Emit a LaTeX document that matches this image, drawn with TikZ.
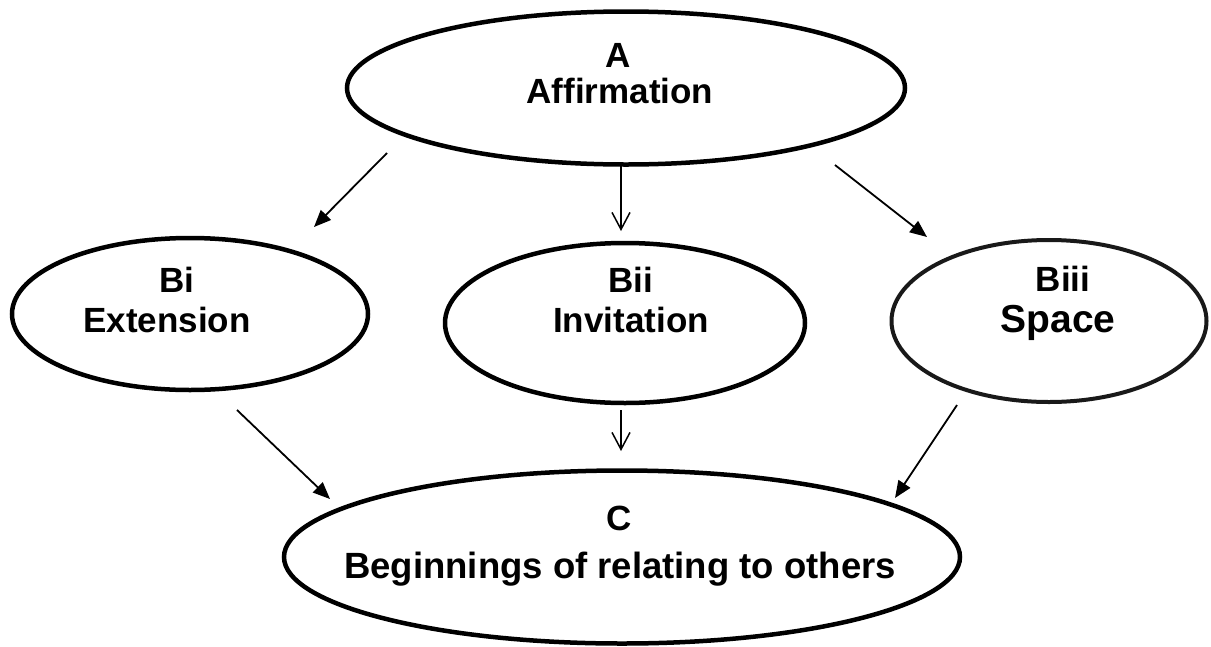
\documentclass[tikz,border=0pt]{standalone}
\usepackage{fontspec}
\setmainfont{Liberation Sans}
\usetikzlibrary{shapes.geometric,arrows.meta}

\begin{document}
\begin{tikzpicture}[x=1pt,y=-1pt,
  oval/.style={ellipse, draw=black, line width=4.5pt, inner sep=0pt, outer sep=0pt},
  lbl/.style={anchor=base, inner sep=0pt, font=\fontsize{35}{36}\selectfont\bfseries},
  bigl/.style={anchor=base, inner sep=0pt, font=\fontsize{39}{40}\selectfont\bfseries},
  widel/.style={anchor=base, inner sep=0pt, font=\fontsize{36.5}{38}\selectfont\bfseries},
  solidarrow/.style={line width=1.8pt, -{Triangle[length=17pt,width=14pt]}},
  openarrow/.style={line width=1.5pt, -{Straight Barb[length=17pt,width=18pt,line width=1.5pt]}}
]
\useasboundingbox (0,0) rectangle (1211,646);

% ovals
\node[oval, minimum width=558, minimum height=153] (A)    at (626,88)  {};
\node[oval, minimum width=356, minimum height=152] (Bi)   at (190,314) {};
\node[oval, minimum width=360, minimum height=160] (Bii)  at (625,323) {};
\node[oval, line width=4pt, draw=black!90, minimum width=315, minimum height=162] (Biii) at (1049,321) {};
\node[oval, minimum width=676, minimum height=173] (C)    at (622,557) {};

% labels
\node[lbl] (Ahead) at (618,67)  {A};
\node[lbl] (Aname) at (620,103) {Affirmation};
\node[lbl] (Bihead) at (177,292) {Bi};
\node[lbl] (Biname) at (167,332) {Extension};
\node[lbl] (Biihead) at (631,292) {Bii};
\node[lbl] (Biiname) at (631,332) {Invitation};
\node[lbl] (Biiihead) at (1063,291) {Biii};
\node[bigl] (Biiiname) at (1058,332) {Space};
\node[lbl] (Chead) at (619,530) {C};
\node[widel] (Cname) at (620,578) {Beginnings of relating to others};

% connectors
\draw[solidarrow] ([shift={(-239,65)}]A.center)  -- ([shift={(124,-87)}]Bi.center);
\draw[openarrow]  ([shift={(-5,77)}]A.center)    -- ([shift={(-4,-92)}]Bii.center);
\draw[solidarrow] ([shift={(209,77)}]A.center)   -- ([shift={(-122,-84)}]Biii.center);
\draw[solidarrow] ([shift={(47,96)}]Bi.center)   -- ([shift={(-292,-58)}]C.center);
\draw[openarrow]  ([shift={(-4,87)}]Bii.center)  -- ([shift={(-1,-106)}]C.center);
\draw[solidarrow] ([shift={(-92,84)}]Biii.center) -- ([shift={(273,-59)}]C.center);
\end{tikzpicture}
\end{document}
